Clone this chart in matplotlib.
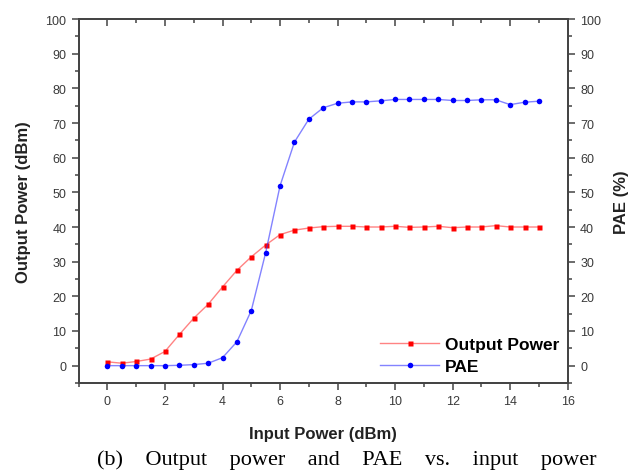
import numpy as np
import matplotlib.pyplot as plt
from matplotlib.ticker import MultipleLocator

# input power sweep (dBm)
pin = [0, 0.5, 1, 1.5, 2, 2.5, 3, 3.5, 4, 4.5, 5, 5.5, 6, 6.5, 7, 7.5,
       8, 8.5, 9, 9.5, 10, 10.5, 11, 11.5, 12, 12.5, 13, 13.5, 14, 14.5, 15]

# output power (dBm)
pout = [1.1, 0.7, 1.2, 1.9, 4.1, 9.0, 13.7, 17.7, 22.7, 27.5, 31.4, 34.8, 37.8, 39.1, 39.7, 40.1,
        40.2, 40.2, 40.0, 40.0, 40.2, 39.9, 40.0, 40.2, 39.8, 40.0, 40.0, 40.4, 40.0, 40.0, 40.0]

# PAE (%)
pae = [0, 0, 0, 0, 0, 0.1, 0.3, 0.7, 2.3, 6.9, 15.9, 32.6, 51.9, 64.5, 71.1, 74.4,
       75.7, 76.1, 76.1, 76.4, 76.8, 76.8, 76.8, 76.8, 76.5, 76.5, 76.7, 76.7, 75.3, 76.0, 76.3]

plt.rcParams['font.family'] = ['Liberation Sans', 'DejaVu Sans']

fig = plt.figure(figsize=(6.4, 4.77), dpi=100)
ax = fig.add_axes([0.123, 0.195, 0.764, 0.763])
ax2 = ax.twinx()

l1, = ax.plot(pin, pout, color='#ff3030', lw=1.0, alpha=0.6)
m1, = ax.plot(pin, pout, 's', color='red', ms=3.6, mec='none')
l2, = ax2.plot(pin, pae, color='#3030ff', lw=1.0, alpha=0.6)
m2, = ax2.plot(pin, pae, 'o', color='blue', ms=4.0, mec='none')

ax.set_xlim(-1, 16)
ax.set_ylim(-5, 100)
ax2.set_ylim(-5, 100)

ax.xaxis.set_minor_locator(MultipleLocator(1))
ax.yaxis.set_minor_locator(MultipleLocator(5))
ax2.yaxis.set_minor_locator(MultipleLocator(5))
ax.set_xticks(range(0, 17, 2))
ax2.set_yticks(range(0, 101, 10))
ax.set_yticks(range(0, 101, 10))

tc = '#3a3a3a'
for a in (ax, ax2):
    for s in a.spines.values():
        s.set_color('#444444')
        s.set_linewidth(1.3)
    a.tick_params(which='both', direction='out', colors='#444444', labelcolor=tc, labelsize=9, width=1.1)
    a.tick_params(which='major', length=5, pad=4)
    a.tick_params(which='minor', length=3)
ax.tick_params(axis='x', which='both', top=True, labeltop=False)

# top ticks point inward
for t in ax.xaxis.get_major_ticks() + ax.xaxis.get_minor_ticks():
    t.tick2line.set_marker(3)

ax.set_xlabel('Input Power (dBm)', fontsize=12, fontweight='bold', color='#222222', labelpad=13)
ax.set_ylabel('Output Power (dBm)', fontsize=12, fontweight='bold', color='#222222', labelpad=10)
ax2.set_ylabel('PAE (%)', fontsize=12, fontweight='bold', color='#222222', labelpad=9)

ax2.legend([(l1, m1), (l2, m2)], ['Output Power', 'PAE'], loc='lower right',
           frameon=False, prop={'weight': 'bold', 'size': 12.5}, handlelength=3.4,
           handletextpad=0.3, borderaxespad=0.1, labelspacing=0.4, bbox_to_anchor=(1.0, 0.0))

fig.text(0.542, 0.035, '(b)    Output    power    and    PAE    vs.    input    power',
         family='Liberation Serif', fontsize=16, ha='center', va='center')

fig.savefig('out.png', dpi=100)
